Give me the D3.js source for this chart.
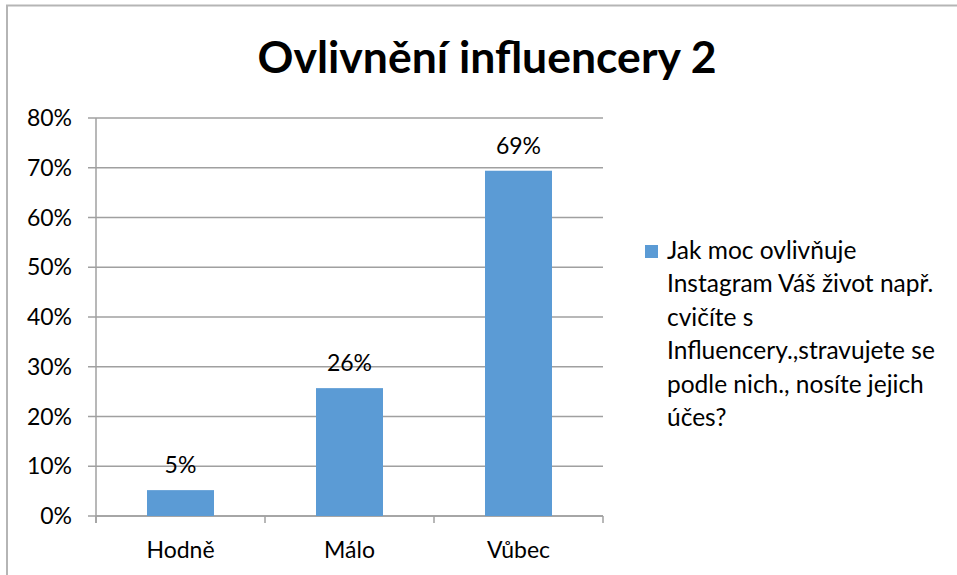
<!DOCTYPE html>
<meta charset="utf-8">
<style>
body { margin: 0; background: #fff; }
text { font-family: Lato, "Open Sans", sans-serif; fill: #000; }
.grid line { stroke: #a0a0a0; stroke-width: 1.5px; }
</style>
<body>
<div id="chart"></div>
<script src="https://cdn.jsdelivr.net/npm/d3@7"></script>
<script>
// values
var categories = ["Hodně", "Málo", "Vůbec"];
var values = [0.052, 0.257, 0.694];
var valueLabels = ["5%", "26%", "69%"];
var yTicks = [0, 0.1, 0.2, 0.3, 0.4, 0.5, 0.6, 0.7, 0.8];
var title = "Ovlivnění influencery 2";
var legendLines = ["Jak moc ovlivňuje", "Instagram Váš život např.", "cvičíte s",
  "Influencery.,stravujete se", "podle nich., nosíte jejich", "účes?"];

var width = 957, height = 575;
var plotL = 96, plotR = 603, plotT = 118, plotB = 516;

var svg = d3.select("#chart").append("svg")
    .attr("width", width)
    .attr("height", height);

// outer chart border (runs off right/bottom)
svg.append("rect")
    .attr("x", 7).attr("y", 5.5)
    .attr("width", 1000).attr("height", 1000)
    .attr("fill", "none")
    .attr("stroke", "#b5b5b5")
    .attr("stroke-width", 2);

svg.append("text")
    .attr("x", 487).attr("y", 73)
    .attr("text-anchor", "middle")
    .style("font-size", "44.5px")
    .style("font-weight", "bold")
    .text(title);

var x = d3.scaleBand().domain(categories).range([plotL, plotR]).paddingInner(0.6).paddingOuter(0.3);
var y = d3.scaleLinear().domain([0, 0.8]).range([plotB, plotT]);

// gridlines + left ticks
svg.append("g").attr("class", "grid")
  .selectAll("line").data(yTicks).enter().append("line")
    .attr("x1", plotL - 8).attr("x2", plotR)
    .attr("y1", function(d) { return y(d); })
    .attr("y2", function(d) { return y(d); });

svg.append("g")
  .selectAll("text").data(yTicks).enter().append("text")
    .attr("x", 72).attr("y", function(d) { return y(d); })
    .attr("dy", "0.35em")
    .attr("text-anchor", "end")
    .style("font-size", "23px")
    .text(d3.format(".0%"));

// y axis line
svg.append("line")
    .attr("x1", plotL).attr("x2", plotL)
    .attr("y1", plotT).attr("y2", plotB + 7)
    .attr("stroke", "#a0a0a0").attr("stroke-width", 1.5);

// category boundary ticks
var bounds = d3.range(categories.length + 1).map(function(i) { return plotL + i * (plotR - plotL) / categories.length; });
svg.append("g")
  .selectAll("line").data(bounds).enter().append("line")
    .attr("x1", function(d) { return d; }).attr("x2", function(d) { return d; })
    .attr("y1", plotB).attr("y2", plotB + 7)
    .attr("stroke", "#a0a0a0").attr("stroke-width", 1.5);

svg.append("line")
    .attr("x1", plotL).attr("x2", plotR)
    .attr("y1", plotB).attr("y2", plotB)
    .attr("stroke", "#a0a0a0").attr("stroke-width", 1.5);

var bw = 67;
function cx(c) { return x(c) + x.bandwidth() / 2; }

svg.append("g")
  .selectAll("rect").data(values).enter().append("rect")
    .attr("x", function(d, i) { return cx(categories[i]) - bw / 2; })
    .attr("y", function(d) { return y(d); })
    .attr("width", bw)
    .attr("height", function(d) { return plotB - y(d); })
    .attr("fill", "#5b9bd5");

svg.append("g")
  .selectAll("text").data(values).enter().append("text")
    .attr("x", function(d, i) { return cx(categories[i]); })
    .attr("y", function(d) { return y(d) - 17; })
    .attr("text-anchor", "middle")
    .style("font-size", "23px")
    .text(function(d, i) { return valueLabels[i]; });

svg.append("g")
  .selectAll("text").data(categories).enter().append("text")
    .attr("x", function(d) { return cx(d); })
    .attr("y", 558)
    .attr("text-anchor", "middle")
    .style("font-size", "23px")
    .text(function(d) { return d; });

// legend
svg.append("rect")
    .attr("x", 645).attr("y", 245)
    .attr("width", 13).attr("height", 13)
    .attr("fill", "#5b9bd5");

svg.append("g")
  .selectAll("text").data(legendLines).enter().append("text")
    .attr("x", 667)
    .attr("y", function(d, i) { return 259 + i * 33.4; })
    .style("font-size", "24.5px")
    .text(function(d) { return d; });
</script>
</body>
